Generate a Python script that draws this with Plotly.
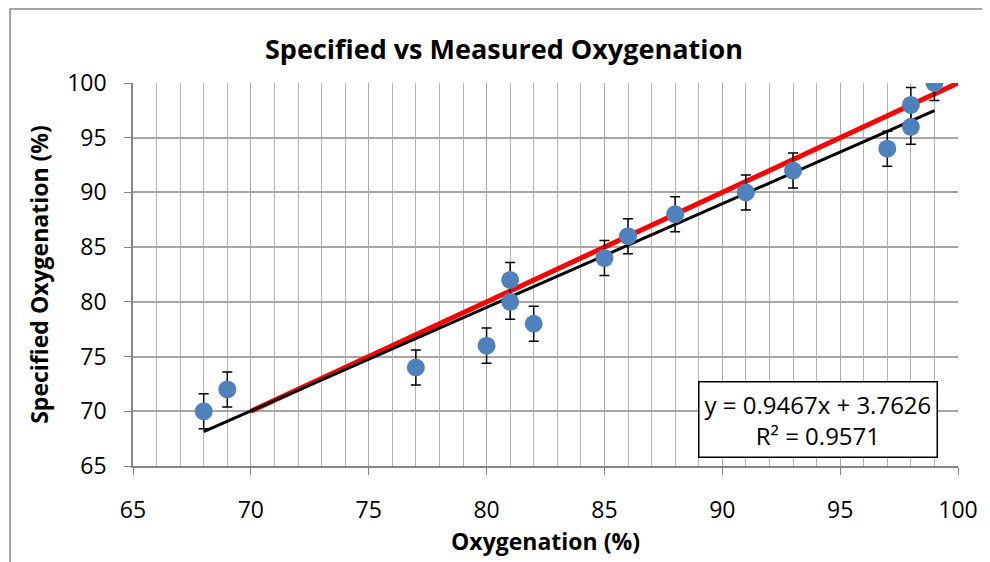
import plotly.graph_objects as go

# measured oxygenation (x) vs specified oxygenation (y)
measured = [68, 69, 77, 80, 81, 81, 82, 85, 86, 88, 91, 93, 97, 98, 98, 99]
specified = [70, 72, 74, 76, 82, 80, 78, 84, 86, 88, 90, 92, 94, 98, 96, 100]
err = 1.6

ideal_x = [70, 100]
ideal_y = [70, 100]

slope = 0.9467
intercept = 3.7626
trend_x = [68, 99]
trend_y = [slope * v + intercept for v in trend_x]

font = "Open Sans"

fig = go.Figure()
fig.add_trace(go.Scatter(x=ideal_x, y=ideal_y, mode="lines",
                         line=dict(color="#ff0000", width=5), showlegend=False))
fig.add_trace(go.Scatter(x=trend_x, y=trend_y, mode="lines",
                         line=dict(color="black", width=3), showlegend=False))
fig.add_trace(go.Scatter(
    x=measured, y=specified, mode="markers",
    marker=dict(color="#4f81bd", size=18),
    error_y=dict(type="constant", value=err, color="black", thickness=1.5, width=5),
    showlegend=False))

fig.update_xaxes(
    range=[65, 100], dtick=5, tick0=65,
    showgrid=True, gridcolor="#a8a8a8", gridwidth=1,
    minor=dict(dtick=1, showgrid=True, gridcolor="#b4b4b4", gridwidth=1),
    showline=True, linecolor="#868686", linewidth=1.5,
    ticks="outside", ticklen=7, tickcolor="#868686",
    ticklabelstandoff=16,
    zeroline=False,
    tickfont=dict(family=font, size=23, color="black"),
    title=dict(text="<b>Oxygenation (%)</b>", font=dict(family=font, size=23, color="black"), standoff=4),
)
fig.update_yaxes(
    range=[65, 100], dtick=5, tick0=65,
    showgrid=True, gridcolor="#a6a6a6", gridwidth=1.5,
    showline=True, linecolor="#868686", linewidth=1.5,
    ticks="outside", ticklen=7, tickcolor="#868686",
    ticklabelstandoff=13,
    zeroline=False,
    tickfont=dict(family=font, size=23, color="black"),
    title=dict(text="<b>Specified Oxygenation (%)</b>", font=dict(family=font, size=23, color="black"), standoff=12),
)

fig.add_annotation(
    x=0.8307, y=0.1227, xref="paper", yref="paper",
    xanchor="center", yanchor="middle",
    text="y = 0.9467x + 3.7626<br>R² = 0.9571", showarrow=False,
    font=dict(family=font, size=24, color="black"),
    bgcolor="white", bordercolor="black", borderwidth=1.5, borderpad=5,
    align="center",
)
fig.add_annotation(
    x=0.45, y=1.09, xref="paper", yref="paper",
    xanchor="center", yanchor="middle",
    text="<b>Specified vs Measured Oxygenation</b>", showarrow=False,
    font=dict(family=font, size=27, color="black"),
)
fig.add_shape(type="rect", xref="paper", yref="paper",
              x0=-0.149, y0=-0.3, x1=1.1, y1=1.193,
              line=dict(color="#888888", width=1.5), layer="below")

fig.update_layout(
    width=982, height=554,
    margin=dict(l=125, r=30, t=75, b=96),
    paper_bgcolor="white", plot_bgcolor="white",
)

fig.write_html("out.html")
